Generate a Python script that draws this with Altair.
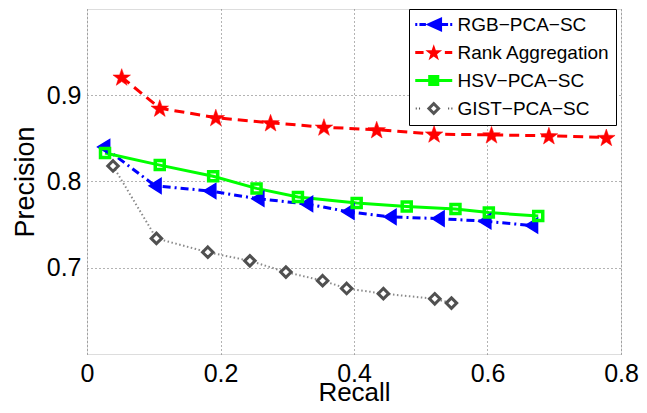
import altair as alt
import pandas as pd

# ---------------- data ----------------
series_names = ["RGB−PCA−SC", "Rank Aggregation", "HSV−PCA−SC", "GIST−PCA−SC"]

rgb_recall = [0.025, 0.102, 0.184, 0.256, 0.329, 0.391, 0.454, 0.526, 0.596, 0.666]
rgb_precision = [0.840, 0.795, 0.789, 0.780, 0.774, 0.765, 0.759, 0.757, 0.754, 0.749]

rank_recall = [0.052, 0.109, 0.193, 0.275, 0.355, 0.434, 0.520, 0.606, 0.692, 0.778]
rank_precision = [0.921, 0.885, 0.874, 0.868, 0.863, 0.860, 0.855, 0.854, 0.853, 0.851]

hsv_recall = [0.027, 0.109, 0.189, 0.254, 0.316, 0.404, 0.479, 0.552, 0.602, 0.676]
hsv_precision = [0.833, 0.819, 0.806, 0.792, 0.782, 0.775, 0.771, 0.768, 0.764, 0.760]

gist_recall = [0.039, 0.104, 0.181, 0.244, 0.298, 0.353, 0.389, 0.444, 0.521, 0.546]
gist_precision = [0.818, 0.734, 0.718, 0.708, 0.695, 0.685, 0.676, 0.670, 0.664, 0.659]

x_ticks = [0, 0.2, 0.4, 0.6, 0.8]
y_ticks = [0.7, 0.8, 0.9]

# ---------------- marker shapes ----------------
FONT = "Liberation Sans"


def star_path(cx=0.0, cy=0.0, R=1.0, r=0.4):
    import math
    pts = []
    for i in range(10):
        ang = -math.pi / 2 + i * math.pi / 5
        rad = R if i % 2 == 0 else r
        pts.append((cx + rad * math.cos(ang), cy + rad * math.sin(ang)))
    return "M" + "L".join(f"{x:.3f},{y:.3f}" for x, y in pts) + "Z"


def rect(x0, x1, h):
    return f"M{x0},{-h}L{x1},{-h}L{x1},{h}L{x0},{h}Z"


STAR = star_path(0, 0.08, 1.0, 0.4)
TRI_LEFT = "M-0.8,0L0.8,-1L0.8,1Z"
SQUARE = "M-1,-1L1,-1L1,1L-1,1Z"
DIAMOND = "M0,-1L1,0L0,1L-1,0Z"

# legend symbols: line segment + marker, x from -1 to 3 units
h3 = 0.17
leg_rgb = (rect(-1, -0.78, h3) + rect(-0.55, 0.15, h3) +
           "M0.1,0L1.9,-0.8L1.9,0.8Z" + rect(1.9, 2.55, h3) + rect(2.78, 3.0, h3))
leg_rank = rect(-1, -0.1, h3) + star_path(1.0, 0.06, 0.95, 0.38) + rect(2.2, 3.0, h3)
leg_hsv = rect(-1, 3.0, h3) + "M0.4,-0.6L1.6,-0.6L1.6,0.6L0.4,0.6Z"
leg_gist = ("".join(rect(a, a + 0.12, 0.11) for a in [-0.95, -0.6, 2.55, 2.9]) +
            "M1,-0.75L1.75,0L1,0.75L0.25,0Z" + "M1,-0.3L0.7,0L1,0.3L1.3,0Z")

# ---------------- scales & axes ----------------
xscale = alt.Scale(domain=[0, 0.8], nice=False, zero=False)
yscale = alt.Scale(domain=[0.6, 1.0], nice=False, zero=False)

xaxis = alt.Axis(values=x_ticks, format="~g", title="Recall", grid=True,
                 gridDash=[1, 3], gridColor="#666666", gridWidth=1,
                 ticks=False, domain=False, labelPadding=7,
                 labelFontSize=25, titleFontSize=26, labelFont=FONT, titleFont=FONT,
                 labelColor="black", titleColor="black", titleFontWeight="normal",
                 labelFlush=False, titleBaseline="alphabetic", titleY=46)
yaxis = alt.Axis(values=y_ticks, format="~g", title="Precision", grid=True,
                 gridDash=[1, 3], gridColor="#666666", gridWidth=1,
                 ticks=False, domain=False, labelPadding=6,
                 labelFontSize=25, titleFontSize=27, labelFont=FONT, titleFont=FONT,
                 labelColor="black", titleColor="black", titleFontWeight="normal",
                 labelFlush=False, titleBaseline="alphabetic", titleX=-54)

specs = [
    dict(x=rgb_recall, y=rgb_precision, color="#0000ff", width=3, dash=[8, 4, 2, 4],
         shape=TRI_LEFT, size=225, filled=True, fill="#0000ff", stroke="#0000ff", sw=1.5),
    dict(x=rank_recall, y=rank_precision, color="#ff0000", width=3, dash=[10, 6],
         shape=STAR, size=340, filled=True, fill="#ff0000", stroke="#ff0000", sw=0.5),
    dict(x=hsv_recall, y=hsv_precision, color="#00ff00", width=3, dash=None,
         shape=SQUARE, size=81, filled=False, fill="transparent", stroke="#00ff00", sw=3.5),
    dict(x=gist_recall, y=gist_precision, color="#8a8a8a", width=2, dash=[1.5, 2.5],
         shape=DIAMOND, size=110, filled=False, fill="white", stroke="#505050", sw=3),
]

layers = []
for i, s in enumerate(specs):
    df = pd.DataFrame({"Recall": s["x"], "Precision": s["y"]})
    line_kw = dict(color=s["color"], strokeWidth=s["width"])
    if s["dash"]:
        line_kw["strokeDash"] = s["dash"]
    base = alt.Chart(df)
    if i == 0:
        enc = dict(x=alt.X("Recall:Q", scale=xscale, axis=xaxis),
                   y=alt.Y("Precision:Q", scale=yscale, axis=yaxis))
    else:
        enc = dict(x=alt.X("Recall:Q"), y=alt.Y("Precision:Q"))
    layers.append(base.mark_line(**line_kw).encode(**enc))

for s in specs:
    df = pd.DataFrame({"Recall": s["x"], "Precision": s["y"]})
    layers.append(
        alt.Chart(df).mark_point(shape=s["shape"], size=s["size"], filled=s["filled"],
                                 fill=s["fill"], stroke=s["stroke"], strokeWidth=s["sw"],
                                 opacity=1)
        .encode(x=alt.X("Recall:Q"), y=alt.Y("Precision:Q"))
    )

legend_colors = ["#0000ff", "#ff0000", "#00ff00", "#555555"]
legend_shapes = [leg_rgb, leg_rank, leg_hsv, leg_gist]

leg = alt.Legend(title=None, orient="none", legendX=322, legendY=0,
                 symbolSize=342, symbolStrokeWidth=0, labelOffset=23.5,
                 labelFontSize=19, labelFont=FONT, labelColor="black",
                 padding=6, rowPadding=8, strokeColor="black", fillColor="white",
                 labelLimit=400, symbolOpacity=1)

legend_layer = alt.Chart(alt.Data(values=[])).mark_point(filled=True, opacity=1).encode(
    fill=alt.Fill("Method:N", scale=alt.Scale(domain=series_names, range=legend_colors),
                  legend=leg, sort=series_names),
    shape=alt.Shape("Method:N", scale=alt.Scale(domain=series_names, range=legend_shapes),
                    legend=leg, sort=series_names),
)
layers.append(legend_layer)

chart = alt.layer(*layers).properties(
    width=534, height=345,
    autosize=alt.AutoSizeParams(type="none"),
    padding={"left": 79, "top": 1, "right": 18, "bottom": 51},
).configure_view(stroke="black", strokeWidth=1.5).configure(background="white")

chart.save("out.html", embed_options={"renderer": "svg", "actions": False})
